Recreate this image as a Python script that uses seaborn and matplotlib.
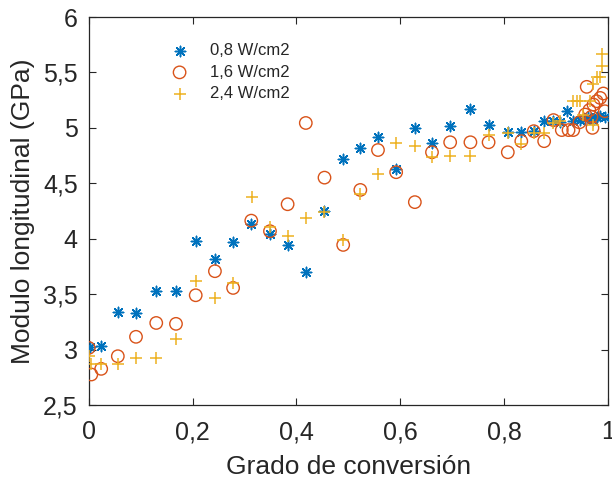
import matplotlib
matplotlib.use("Agg")
import matplotlib.pyplot as plt
import seaborn as sns
import pandas as pd

# ---- data ----
x_08 = [0.002, 0.024, 0.056, 0.091, 0.130, 0.169, 0.206, 0.243, 0.278, 0.313,
        0.349, 0.383, 0.418, 0.454, 0.490, 0.523, 0.557, 0.592, 0.628, 0.661,
        0.696, 0.735, 0.770, 0.807, 0.833, 0.857, 0.877, 0.895, 0.907, 0.921,
        0.933, 0.946, 0.955, 0.962, 0.968, 0.972, 0.978, 0.985, 0.994]
y_08 = [3.027, 3.03, 3.343, 3.334, 3.532, 3.532, 3.977, 3.818, 3.968, 4.13,
        4.04, 3.94, 3.70, 4.25, 4.72, 4.82, 4.915, 4.63, 5.00, 4.86,
        5.02, 5.17, 5.03, 4.966, 4.966, 4.97, 5.065, 5.06, 5.05, 5.15,
        5.06, 5.07, 5.08, 5.10, 5.09, 5.07, 5.10, 5.11, 5.10]

x_16 = [0.0, 0.005, 0.024, 0.056, 0.091, 0.130, 0.168, 0.206, 0.243, 0.278,
        0.313, 0.349, 0.383, 0.418, 0.454, 0.490, 0.523, 0.557, 0.592, 0.628,
        0.661, 0.696, 0.735, 0.770, 0.807, 0.833, 0.857, 0.877, 0.895, 0.911,
        0.924, 0.933, 0.945, 0.956, 0.959, 0.964, 0.968, 0.970, 0.972, 0.978,
        0.985, 0.991, 0.994]
y_16 = [3.015, 2.775, 2.826, 2.94, 3.115, 3.24, 3.232, 3.49, 3.707, 3.556,
        4.163, 4.068, 4.311, 5.044, 4.551, 3.944, 4.44, 4.80, 4.60, 4.33,
        4.78, 4.87, 4.87, 4.87, 4.78, 4.88, 4.97, 4.88, 5.07, 4.98,
        4.98, 4.98, 5.05, 5.12, 5.37, 5.16, 5.10, 5.00, 5.21, 5.24,
        5.27, 5.31, 5.15]

x_24 = [0.0, 0.005, 0.024, 0.056, 0.091, 0.130, 0.168, 0.206, 0.243, 0.278,
        0.314, 0.349, 0.383, 0.418, 0.454, 0.490, 0.523, 0.557, 0.592, 0.628,
        0.661, 0.696, 0.735, 0.770, 0.807, 0.833, 0.857, 0.877, 0.895, 0.907,
        0.933, 0.940, 0.946, 0.952, 0.965, 0.972, 0.972, 0.978, 0.985, 0.989,
        0.989]
y_24 = [2.946, 2.87, 2.87, 2.87, 2.925, 2.92, 3.094, 3.617, 3.466, 3.60,
        4.374, 4.11, 4.025, 4.19, 4.24, 3.99, 4.40, 4.58, 4.86, 4.84,
        4.74, 4.75, 4.75, 4.94, 4.95, 4.85, 4.95, 4.95, 5.04, 5.06,
        5.24, 5.24, 5.24, 5.12, 5.24, 5.40, 5.03, 5.46, 5.46, 5.56,
        5.67]

series_labels = ["0,8 W/cm2", "1,6 W/cm2", "2,4 W/cm2"]
x_ticks = [0, 0.2, 0.4, 0.6, 0.8, 1.0]
x_ticklabels = ["0", "0,2", "0,4", "0,6", "0,8", "1"]
y_ticks = [2.5, 3, 3.5, 4, 4.5, 5, 5.5, 6]
y_ticklabels = ["2,5", "3", "3,5", "4", "4,5", "5", "5,5", "6"]

# ---- style ----
sns.set_theme(style="white")
plt.rcParams["font.family"] = ["Liberation Sans", "DejaVu Sans"]

c_blue = "#0072BD"
c_orange = "#D95319"
c_yellow = "#EDB120"

fig = plt.figure(figsize=(6.12, 4.79), dpi=100)
ax = fig.add_axes([0.145, 0.1545, 0.8485, 0.81])

df1 = pd.DataFrame({"x": x_08, "y": y_08})
df2 = pd.DataFrame({"x": x_16, "y": y_16})
df3 = pd.DataFrame({"x": x_24, "y": y_24})

sns.scatterplot(data=df1, x="x", y="y", ax=ax, marker=(8, 2, 0), s=55,
                color=c_blue, edgecolor=c_blue, linewidth=1.1,
                label=series_labels[0], zorder=3)
sns.scatterplot(data=df2, x="x", y="y", ax=ax, marker="o", s=80,
                facecolor="none", edgecolor=c_orange, linewidth=1.0,
                label=series_labels[1], zorder=4)
sns.scatterplot(data=df3, x="x", y="y", ax=ax, marker="+", s=85,
                color=c_yellow, linewidth=1.1,
                label=series_labels[2], zorder=5)

ax.set_xlim(0, 1)
ax.set_ylim(2.5, 6)
ax.set_xticks(x_ticks)
ax.set_xticklabels(x_ticklabels)
ax.set_yticks(y_ticks)
ax.set_yticklabels(y_ticklabels)

ax.tick_params(direction="in", length=5, width=0.8, colors="#262626",
               labelsize=18, top=True, right=True, bottom=True, left=True)
ax.tick_params(axis="x", pad=11)
ax.tick_params(axis="y", pad=8)
for sp in ax.spines.values():
    sp.set_visible(True)
    sp.set_color("#262626")
    sp.set_linewidth(0.9)

ax.set_xlabel("Grado de conversión", fontsize=19, color="#262626", labelpad=8)
ax.set_ylabel("Modulo longitudinal (GPa)", fontsize=19, color="#262626", labelpad=6)

leg = ax.legend(loc="upper left", bbox_to_anchor=(0.13, 0.95), frameon=False,
                fontsize=12, labelspacing=0.4, handletextpad=0.8,
                borderaxespad=0)

fig.savefig("out.png", dpi=100)
